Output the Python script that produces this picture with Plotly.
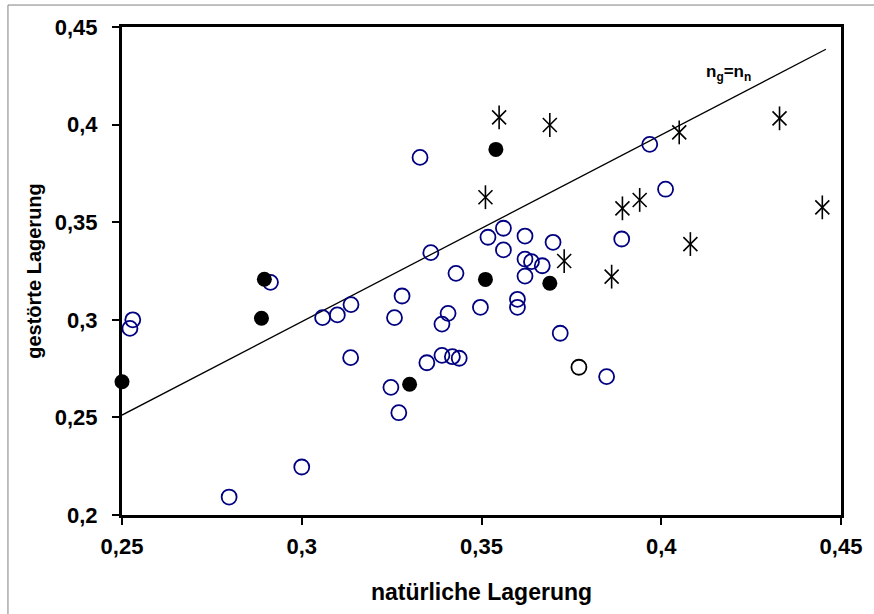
import plotly.graph_objects as go

# Blue open circles
blue_x = [0.2530, 0.2522, 0.2798, 0.3000, 0.2913, 0.3058, 0.3099, 0.3137, 0.3279, 0.3258,
          0.3136, 0.3407, 0.3390, 0.3429, 0.3497, 0.3348, 0.3390, 0.3419, 0.3438, 0.3248,
          0.3270, 0.3600, 0.3600, 0.3621, 0.3719, 0.3848, 0.3669, 0.3639, 0.3621, 0.3561,
          0.3329, 0.3359, 0.3518, 0.3561, 0.3621, 0.3699, 0.3968, 0.4012, 0.3890]
blue_y = [0.3000, 0.2956, 0.2092, 0.2246, 0.3192, 0.3011, 0.3025, 0.3078, 0.3122, 0.3011,
          0.2806, 0.3033, 0.2978, 0.3238, 0.3064, 0.2780, 0.2818, 0.2811, 0.2803, 0.2654,
          0.2524, 0.3105, 0.3064, 0.3224, 0.2931, 0.2709, 0.3277, 0.3298, 0.3311, 0.3358,
          0.3832, 0.3344, 0.3423, 0.3469, 0.3429, 0.3397, 0.3899, 0.3669, 0.3414]

# Black open circle
open_black_x = [0.3771]
open_black_y = [0.2757]

# Black filled circles
filled_x = [0.2500, 0.2896, 0.2888, 0.3540, 0.3511, 0.3690, 0.3300]
filled_y = [0.2683, 0.3208, 0.3008, 0.3873, 0.3207, 0.3187, 0.2670]

# Stars
star_x = [0.3549, 0.3690, 0.3511, 0.3730, 0.4050, 0.4329, 0.4448, 0.3940, 0.3892, 0.4081, 0.3862]
star_y = [0.4037, 0.3998, 0.3628, 0.3301, 0.3960, 0.4032, 0.3576, 0.3614, 0.3571, 0.3388, 0.3221]

# Trend line
line_x = [0.25, 0.4458]
line_y = [0.2512, 0.4386]

x_ticks = [0.25, 0.3, 0.35, 0.4, 0.45]
x_ticklabels = ["0,25", "0,3", "0,35", "0,4", "0,45"]
y_ticks = [0.2, 0.25, 0.3, 0.35, 0.4, 0.45]
y_ticklabels = ["0,2", "0,25", "0,3", "0,35", "0,4", "0,45"]

FONT = "Liberation Sans, Arial, sans-serif"

fig = go.Figure()
fig.add_trace(go.Scatter(x=line_x, y=line_y, mode="lines",
                         line=dict(color="black", width=1.3), showlegend=False))
fig.add_trace(go.Scatter(x=blue_x, y=blue_y, mode="markers",
                         marker=dict(symbol="circle-open", size=15, color="#000080",
                                     line=dict(width=1.8, color="#000080")),
                         showlegend=False, cliponaxis=False))
fig.add_trace(go.Scatter(x=open_black_x, y=open_black_y, mode="markers",
                         marker=dict(symbol="circle-open", size=15, color="black",
                                     line=dict(width=1.8, color="black")),
                         showlegend=False, cliponaxis=False))
fig.add_trace(go.Scatter(x=filled_x, y=filled_y, mode="markers",
                         marker=dict(symbol="circle", size=15, color="black",
                                     line=dict(width=0)),
                         showlegend=False, cliponaxis=False))
fig.add_trace(go.Scatter(x=star_x, y=star_y, mode="markers",
                         marker=dict(symbol="x-thin-open", size=14, color="black",
                                     line=dict(width=1.6, color="black")),
                         showlegend=False, cliponaxis=False))
fig.add_trace(go.Scatter(x=star_x, y=star_y, mode="markers",
                         marker=dict(symbol="line-ns-open", size=17, color="black",
                                     line=dict(width=1.6, color="black")),
                         showlegend=False, cliponaxis=False))

tick_font = dict(family=FONT, size=22, color="black", weight="bold")

fig.update_xaxes(range=[0.25, 0.45], tickvals=x_ticks, ticktext=x_ticklabels,
                 showgrid=False, zeroline=False, showline=True, linecolor="black",
                 linewidth=3, mirror=True, ticks="outside", ticklen=7, tickwidth=2,
                 tickcolor="black", tickfont=tick_font, ticklabelstandoff=3,
                 title=dict(text="natürliche Lagerung",
                            font=dict(family=FONT, size=23, color="black", weight="bold"),
                            standoff=26))
fig.update_yaxes(range=[0.2, 0.45], tickvals=y_ticks, ticktext=y_ticklabels,
                 showgrid=False, zeroline=False, showline=True, linecolor="black",
                 linewidth=3, mirror=True, ticks="outside", ticklen=7, tickwidth=2,
                 tickcolor="black", tickfont=tick_font, ticklabelstandoff=10,
                 title=dict(text="gestörte Lagerung",
                            font=dict(family=FONT, size=20, color="black", weight="bold"),
                            standoff=8))

fig.add_annotation(x=0.4186, y=0.4264, xref="x", yref="y",
                   text="<b>n<sub>g</sub>=n<sub>n</sub></b>", showarrow=False,
                   font=dict(family=FONT, size=17, color="black"))

# Outer gray frame
fig.add_shape(type="line", xref="paper", yref="paper", x0=-0.1586, x1=1.1, y0=1.045, y1=1.045,
              line=dict(color="#808080", width=1))
fig.add_shape(type="line", xref="paper", yref="paper", x0=-0.1586, x1=-0.1586, y0=1.045, y1=-0.3,
              line=dict(color="#808080", width=1))

fig.update_layout(width=874, height=614, margin=dict(l=122, r=23, t=27, b=99),
                  plot_bgcolor="white", paper_bgcolor="white")

fig.write_html("out.html", config={"displayModeBar": False},
               post_script="document.body.style.margin='0';document.body.style.overflow='hidden';")
